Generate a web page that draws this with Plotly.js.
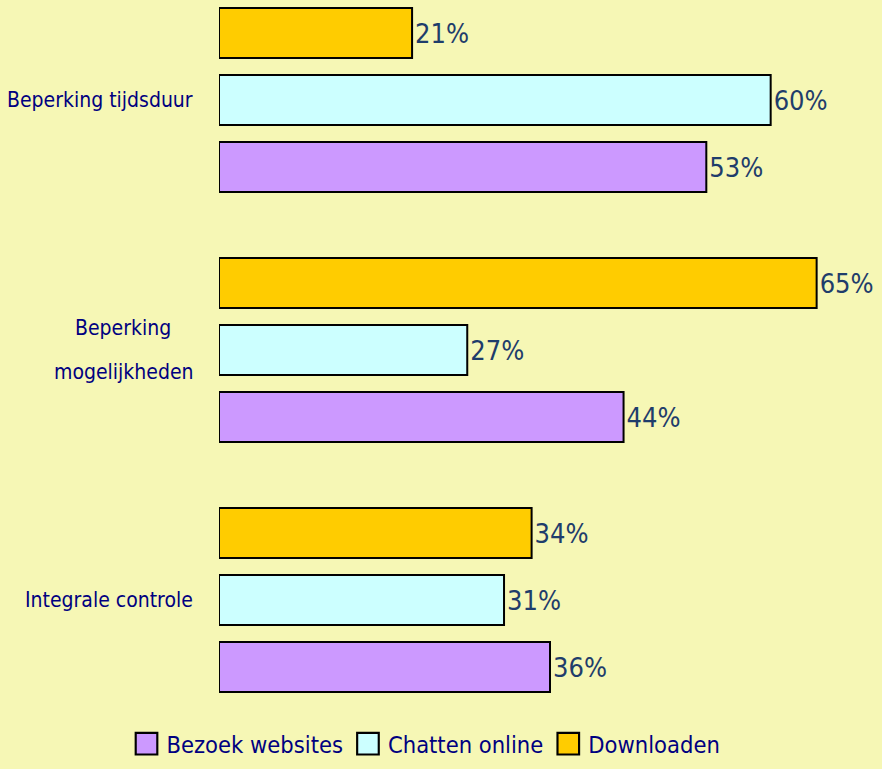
<!DOCTYPE html>
<html>
<head>
<meta charset="utf-8">
<script src="https://cdn.plot.ly/plotly-3.0.1.min.js"></script>
<style>
  html, body { margin: 0; padding: 0; background: #f6f7b5; }
  #chart { width: 882px; height: 769px; }
</style>
</head>
<body>
<div id="chart"></div>
<script>
// Categories, top to bottom as shown
const categories = ['Beperking tijdsduur', 'Beperking mogelijkheden', 'Integrale controle'];
const categoryLabelLines = [['Beperking tijdsduur'], ['Beperking', 'mogelijkheden'], ['Integrale controle']];
// Series (percent)
const seriesNames = ['Bezoek websites', 'Chatten online', 'Downloaden'];
const bezoekWebsites = [53, 44, 36];
const chattenOnline = [60, 27, 31];
const downloaden = [21, 65, 34];
const seriesColors = ['#cc99ff', '#ccffff', '#ffcc00'];

const FONT = '"DejaVu Sans Condensed", "Liberation Sans Narrow", sans-serif';
const LABEL_SIZE = 21;
const seriesValues = [bezoekWebsites, chattenOnline, downloaden];

const traces = seriesNames.map((name, i) => ({
  type: 'bar',
  orientation: 'h',
  name: name,
  y: categories,
  x: seriesValues[i],
  text: seriesValues[i].map(v => v + '%'),
  textposition: 'outside',
  cliponaxis: false,
  constraintext: 'none',
  textfont: { family: FONT, size: 27, color: '#1f3d6b' },
  marker: { color: seriesColors[i], line: { color: '#000000', width: 2 } },
  hoverinfo: 'none'
}));

// measure label widths so multi-line labels are centred as a block, right-aligned to the axis
const ctx = document.createElement('canvas').getContext('2d');
ctx.font = LABEL_SIZE + 'px "DejaVu Sans Condensed"';
const LINE_GAP = 44;
const annotations = [];
categories.forEach((c, i) => {
  const lines = categoryLabelLines[i];
  const maxW = Math.max(...lines.map(l => ctx.measureText(l).width));
  lines.forEach((line, j) => {
    annotations.push({
      xref: 'paper', yref: 'y',
      x: 0, y: c,
      xshift: -26 - maxW / 2,
      yshift: ((lines.length - 1) / 2 - j) * LINE_GAP,
      xanchor: 'center', yanchor: 'middle',
      showarrow: false,
      text: line,
      font: { family: FONT, size: LABEL_SIZE, color: '#000080' }
    });
  });
});

const layout = {
  width: 882, height: 769,
  paper_bgcolor: '#f6f7b5',
  plot_bgcolor: '#f6f7b5',
  margin: { l: 219, r: 1, t: 0, b: 69, autoexpand: false },
  barmode: 'group',
  bargap: 0.196,
  bargroupgap: 0.254,
  showlegend: true,
  legend: {
    orientation: 'h',
    xref: 'container', yref: 'container',
    x: 0.483, xanchor: 'center',
    y: 0.004, yanchor: 'bottom',
    font: { family: FONT, size: 23.5, color: '#000080' },
    bgcolor: 'rgba(0,0,0,0)',
    traceorder: 'normal'
  },
  xaxis: {
    range: [0, 72],
    showgrid: false, zeroline: false, showline: false,
    showticklabels: false, ticks: ''
  },
  yaxis: {
    type: 'category',
    categoryorder: 'array',
    categoryarray: categories.slice().reverse(),
    range: [-0.4, 2.4],
    showgrid: false, zeroline: false, showline: false,
    showticklabels: false, ticks: ''
  },
  annotations: annotations
};

Plotly.newPlot('chart', traces, layout, { displayModeBar: false, staticPlot: true }).then(() => {
  document.querySelectorAll('.legend .legendpoints path').forEach(p => {
    const t = p.getAttribute('transform') || '';
    p.setAttribute('transform', t + ' scale(1.8)');
    p.style.strokeWidth = '1.2px';
  });
});
</script>
</body>
</html>
